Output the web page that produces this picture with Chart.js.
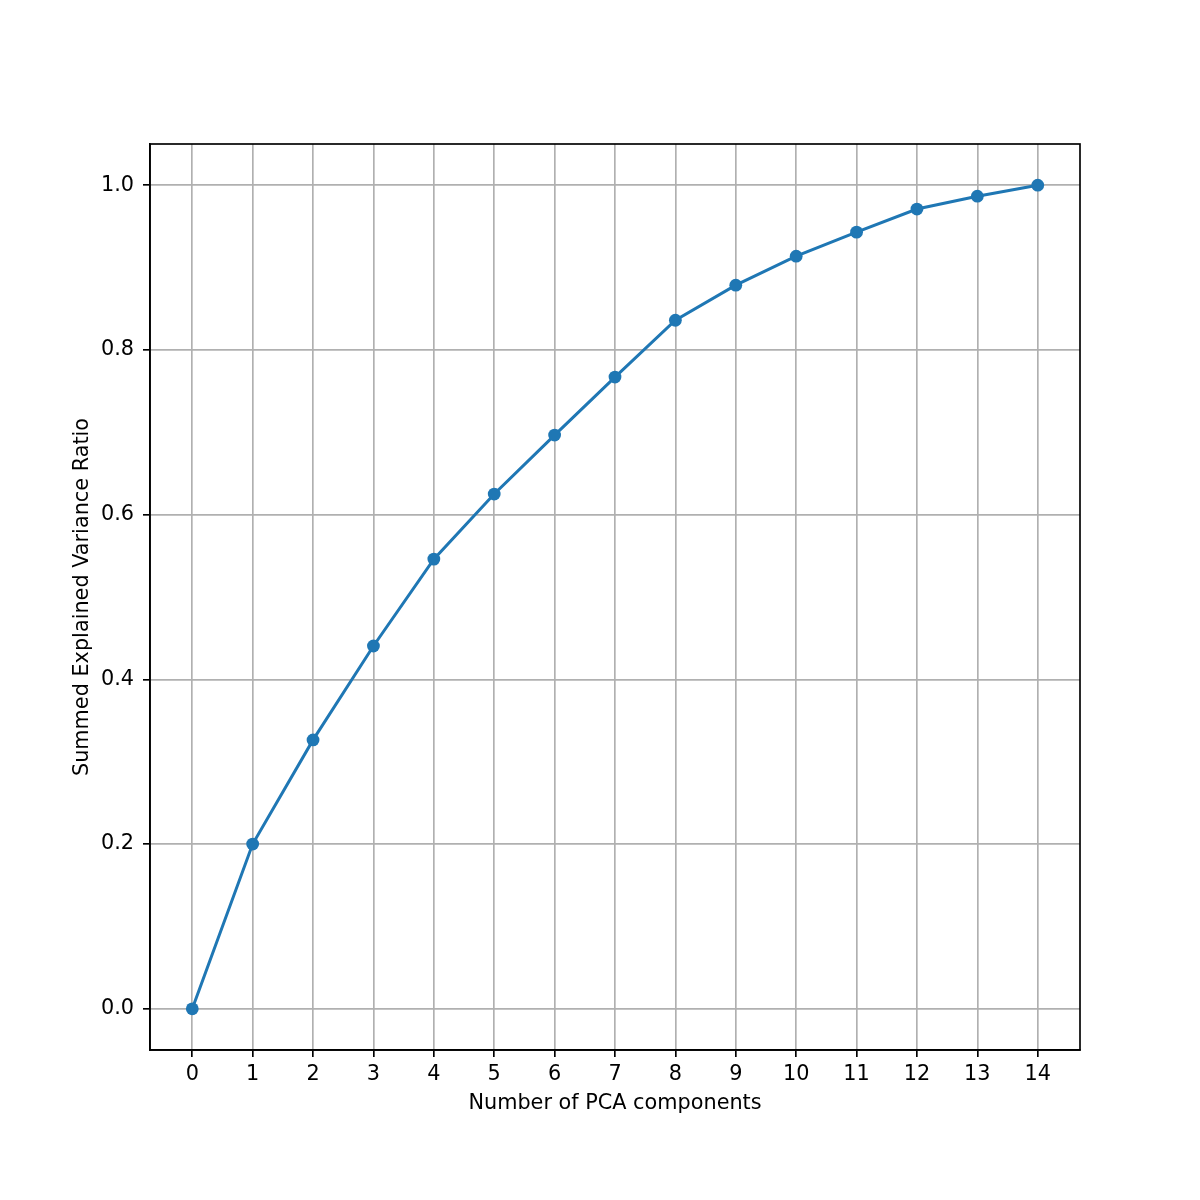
<!DOCTYPE html>
<html>
<head>
<meta charset="utf-8">
<script src="https://cdn.jsdelivr.net/npm/chart.js@4"></script>
<style>
  html, body { margin: 0; padding: 0; background: #ffffff; }
  #wrap { width: 1200px; height: 1200px; }
</style>
</head>
<body>
<div id="wrap"><canvas id="pcaChart" width="1200" height="1200"></canvas></div>
<script>
// Cumulative explained variance
const components = [0, 1, 2, 3, 4, 5, 6, 7, 8, 9, 10, 11, 12, 13, 14];
const summedRatio = [0.0, 0.200, 0.3265, 0.4405, 0.546, 0.625, 0.6966, 0.767, 0.836, 0.8786, 0.9138, 0.943, 0.971, 0.9866, 1.0];
const xTicks = [0, 1, 2, 3, 4, 5, 6, 7, 8, 9, 10, 11, 12, 13, 14];
const yTicks = [0.0, 0.2, 0.4, 0.6, 0.8, 1.0];

const lineColor = '#1f77b4';
const gridColor = '#b0b0b0';
const font = { family: 'DejaVu Sans', size: 20.8, lineHeight: 1.2 };

// draw the full black frame around the plot area (matplotlib spines)
const framePlugin = {
    id: 'frame',
    afterDraw(chart) {
        const { ctx, chartArea: a } = chart;
        ctx.save();
        ctx.strokeStyle = '#000000';
        ctx.lineWidth = 1.67;
        ctx.strokeRect(a.left, a.top, a.right - a.left, a.bottom - a.top);
        ctx.restore();
    }
};

new Chart(document.getElementById('pcaChart').getContext('2d'), {
    type: 'line',
    data: {
        datasets: [{
            data: components.map((c, i) => ({ x: c, y: summedRatio[i] })),
            borderColor: lineColor,
            backgroundColor: lineColor,
            borderWidth: 3,
            pointRadius: 6.4,
            pointBorderWidth: 0,
            pointBackgroundColor: lineColor,
            tension: 0,
            fill: false
        }]
    },
    options: {
        responsive: false,
        animation: false,
        layout: { padding: { left: 70.5, right: 120, top: 144, bottom: 83.5 } },
        plugins: {
            legend: { display: false },
            tooltip: { enabled: false }
        },
        scales: {
            x: {
                type: 'linear',
                min: -0.7,
                max: 14.7,
                afterBuildTicks: (scale) => { scale.ticks = xTicks.map(v => ({ value: v })); },
                afterFit: (scale) => { scale.height = 66.5; },
                grid: { color: gridColor, lineWidth: 1.67, tickColor: '#000000', tickLength: 7 },
                border: { color: '#000000', width: 1.67 },
                ticks: { color: '#000000', font: font, padding: 5, maxRotation: 0, autoSkip: false },
                title: {
                    display: true,
                    text: 'Number of PCA components',
                    color: '#000000',
                    font: font,
                    padding: { top: 0, bottom: 0 }
                }
            },
            y: {
                type: 'linear',
                min: -0.05,
                max: 1.05,
                afterBuildTicks: (scale) => { scale.ticks = yTicks.map(v => ({ value: v })); },
                afterFit: (scale) => { scale.width = 79.5; },
                grid: { color: gridColor, lineWidth: 1.67, tickColor: '#000000', tickLength: 7 },
                border: { color: '#000000', width: 1.67 },
                ticks: {
                    color: '#000000',
                    font: font,
                    padding: 9,
                    callback: (v) => v.toFixed(1)
                },
                title: {
                    display: true,
                    text: 'Summed Explained Variance Ratio',
                    color: '#000000',
                    font: font,
                    padding: { top: 0, bottom: 0 }
                }
            }
        }
    },
    plugins: [framePlugin]
});
</script>
</body>
</html>
